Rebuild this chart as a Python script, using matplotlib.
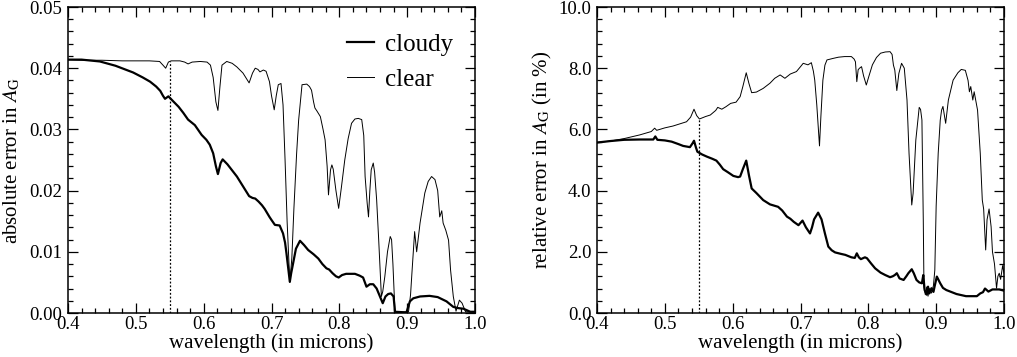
import numpy as np
import matplotlib
matplotlib.use("Agg")
import matplotlib.pyplot as plt
from matplotlib.ticker import MultipleLocator, FormatStrFormatter

plt.rcParams['font.family'] = ['Liberation Serif', 'DejaVu Serif']
plt.rcParams['mathtext.fontset'] = 'stix'

# ---------------- data ----------------
# left panel: absolute error, clear sky
abs_clear_wl = [0.400, 0.420, 0.450, 0.480, 0.500, 0.520, 0.535, 0.540, 0.544, 0.548, 0.552, 0.565,
                0.572, 0.577, 0.583, 0.595, 0.605, 0.610, 0.614, 0.618, 0.621, 0.624, 0.627, 0.634,
                0.642, 0.649, 0.658, 0.667, 0.672, 0.676, 0.680, 0.683, 0.688, 0.692, 0.697, 0.700,
                0.704, 0.707, 0.710, 0.714, 0.717, 0.720, 0.723, 0.727, 0.730, 0.733, 0.737, 0.740,
                0.745, 0.752, 0.756, 0.759, 0.762, 0.764, 0.767, 0.772, 0.776, 0.779, 0.782, 0.784,
                0.787, 0.789, 0.791, 0.795, 0.799, 0.803, 0.808, 0.813, 0.818, 0.823, 0.828, 0.833,
                0.836, 0.838, 0.841, 0.843, 0.845, 0.847, 0.850, 0.852, 0.855, 0.858, 0.862, 0.864,
                0.867, 0.871, 0.875, 0.877, 0.879, 0.882, 0.890, 0.902, 0.905, 0.907, 0.911, 0.914,
                0.919, 0.926, 0.931, 0.936, 0.941, 0.945, 0.948, 0.951, 0.953, 0.957, 0.961, 0.964,
                0.968, 0.972, 0.977, 0.981, 0.986, 1.000]
abs_clear = [0.0414, 0.0413, 0.0413, 0.0412, 0.0412, 0.0412, 0.0411, 0.0405, 0.0400, 0.0410, 0.0412, 0.0412,
             0.0410, 0.0407, 0.0410, 0.0411, 0.0410, 0.0405, 0.0385, 0.0345, 0.0331, 0.0370, 0.0405, 0.0411,
             0.0408, 0.0402, 0.0392, 0.0376, 0.0392, 0.0400, 0.0398, 0.0394, 0.0397, 0.0395, 0.0378, 0.0355,
             0.0332, 0.0355, 0.0373, 0.0375, 0.0340, 0.0250, 0.0150, 0.0050, 0.0090, 0.0170, 0.0260, 0.0315,
             0.0373, 0.0374, 0.0370, 0.0364, 0.0345, 0.0335, 0.0330, 0.0321, 0.0300, 0.0283, 0.0240, 0.0193,
             0.0234, 0.0242, 0.0235, 0.0200, 0.0171, 0.0205, 0.0250, 0.0285, 0.0310, 0.0317, 0.0318, 0.0316,
             0.0290, 0.0223, 0.0180, 0.0157, 0.0200, 0.0234, 0.0245, 0.0230, 0.0185, 0.0120, 0.0027, 0.0035,
             0.0059, 0.0100, 0.0125, 0.0120, 0.0080, 0.0002, 0.0001, 0.0002, 0.0030, 0.0065, 0.0133, 0.0100,
             0.0147, 0.0196, 0.0215, 0.0223, 0.0218, 0.0200, 0.0157, 0.0167, 0.0147, 0.0135, 0.0119, 0.0070,
             0.0027, 0.0003, 0.0021, 0.0016, 0.0002, 0.0002]

# left panel: absolute error, cloudy sky
abs_cloudy_wl = [0.400, 0.420, 0.447, 0.470, 0.496, 0.510, 0.521, 0.530, 0.536, 0.540, 0.543, 0.548,
                 0.555, 0.563, 0.570, 0.577, 0.587, 0.597, 0.604, 0.609, 0.614, 0.618, 0.621, 0.625,
                 0.628, 0.635, 0.642, 0.649, 0.658, 0.667, 0.672, 0.676, 0.681, 0.686, 0.690, 0.697,
                 0.700, 0.705, 0.712, 0.717, 0.720, 0.722, 0.725, 0.727, 0.729, 0.732, 0.736, 0.742,
                 0.748, 0.754, 0.762, 0.769, 0.775, 0.781, 0.785, 0.790, 0.795, 0.799, 0.804, 0.810,
                 0.823, 0.830, 0.835, 0.840, 0.845, 0.850, 0.855, 0.858, 0.864, 0.868, 0.872, 0.876,
                 0.880, 0.882, 0.899, 0.904, 0.909, 0.919, 0.933, 0.945, 0.958, 0.968, 0.975, 0.983,
                 0.993, 1.000]
abs_cloudy = [0.0414, 0.0414, 0.0411, 0.0404, 0.0393, 0.0385, 0.0378, 0.0370, 0.0363, 0.0355, 0.0350, 0.0354,
              0.0346, 0.0337, 0.0327, 0.0316, 0.0307, 0.0291, 0.0283, 0.0275, 0.0261, 0.0240, 0.0227, 0.0245,
              0.0251, 0.0243, 0.0233, 0.0223, 0.0207, 0.0191, 0.0188, 0.0187, 0.0182, 0.0176, 0.0170, 0.0157,
              0.0152, 0.0144, 0.0143, 0.0130, 0.0115, 0.0098, 0.0070, 0.0051, 0.0065, 0.0082, 0.0105, 0.0118,
              0.0111, 0.0103, 0.0096, 0.0089, 0.0080, 0.0073, 0.0071, 0.0065, 0.0060, 0.0058, 0.0062, 0.0064,
              0.0064, 0.0061, 0.0058, 0.0043, 0.0047, 0.0047, 0.0040, 0.0032, 0.0016, 0.0027, 0.0031, 0.0032,
              0.0027, 0.0002, 0.0001, 0.0019, 0.0024, 0.0027, 0.0028, 0.0026, 0.0019, 0.0010, 0.0008, 0.0007,
              0.0002, 0.0002]

# right panel: relative error (%), clear sky
rel_clear_wl = [0.400, 0.420, 0.440, 0.463, 0.480, 0.485, 0.488, 0.500, 0.512, 0.522, 0.532, 0.538,
                0.543, 0.547, 0.551, 0.560, 0.567, 0.575, 0.578, 0.584, 0.590, 0.597, 0.605, 0.611,
                0.615, 0.620, 0.624, 0.628, 0.635, 0.645, 0.655, 0.662, 0.670, 0.677, 0.685, 0.694,
                0.700, 0.704, 0.711, 0.716, 0.719, 0.721, 0.724, 0.728, 0.730, 0.733, 0.736, 0.739,
                0.748, 0.756, 0.765, 0.775, 0.779, 0.781, 0.783, 0.785, 0.787, 0.790, 0.793, 0.797,
                0.801, 0.806, 0.812, 0.818, 0.825, 0.832, 0.835, 0.837, 0.839, 0.842, 0.845, 0.849,
                0.853, 0.857, 0.860, 0.864, 0.866, 0.870, 0.875, 0.877, 0.879, 0.881, 0.882, 0.884,
                0.886, 0.888, 0.890, 0.893, 0.896, 0.898, 0.900, 0.903, 0.906, 0.908, 0.910, 0.914,
                0.918, 0.925, 0.932, 0.937, 0.943, 0.947, 0.949, 0.951, 0.954, 0.956, 0.961, 0.965,
                0.968, 0.970, 0.973, 0.975, 0.978, 0.981, 0.983, 0.986, 0.989, 0.991, 0.993, 0.995,
                0.998, 1.000]
rel_clear = [5.57, 5.62, 5.70, 5.82, 5.93, 6.04, 5.97, 6.05, 6.11, 6.18, 6.25, 6.40,
             6.66, 6.45, 6.34, 6.42, 6.47, 6.62, 6.72, 6.66, 6.74, 6.85, 6.89, 7.07,
             7.40, 7.85, 7.50, 7.20, 7.22, 7.34, 7.51, 7.67, 7.78, 7.67, 7.81, 7.89,
             8.05, 8.16, 8.11, 8.18, 7.90, 7.61, 6.80, 5.46, 6.40, 7.61, 8.10, 8.27,
             8.32, 8.36, 8.38, 8.38, 8.30, 8.21, 7.56, 7.95, 8.00, 8.05, 7.75, 7.45,
             7.75, 8.11, 8.35, 8.49, 8.53, 8.54, 8.45, 8.10, 7.94, 7.27, 7.83, 8.16,
             8.00, 6.96, 5.22, 3.53, 3.91, 5.65, 6.72, 6.65, 6.31, 3.04, 0.86, 0.60,
             0.85, 0.55, 0.80, 0.65, 0.90, 1.40, 3.50, 5.22, 6.30, 6.63, 6.75, 6.20,
             6.96, 7.61, 7.85, 7.96, 7.93, 7.60, 7.23, 7.40, 6.96, 7.23, 6.63, 5.22,
             3.69, 3.40, 2.06, 3.05, 3.40, 2.82, 2.00, 1.60, 0.81, 1.20, 1.30, 1.10,
             1.55, 1.30]

# right panel: relative error (%), cloudy sky
rel_cloudy_wl = [0.400, 0.420, 0.440, 0.463, 0.483, 0.486, 0.489, 0.500, 0.510, 0.520, 0.527, 0.537,
                 0.541, 0.543, 0.546, 0.548, 0.555, 0.562, 0.570, 0.576, 0.581, 0.586, 0.593, 0.601,
                 0.608, 0.611, 0.615, 0.620, 0.624, 0.628, 0.635, 0.645, 0.655, 0.667, 0.673, 0.680,
                 0.685, 0.690, 0.697, 0.703, 0.708, 0.714, 0.717, 0.720, 0.726, 0.731, 0.736, 0.741,
                 0.746, 0.751, 0.760, 0.766, 0.775, 0.780, 0.783, 0.786, 0.789, 0.795, 0.798, 0.804,
                 0.810, 0.818, 0.825, 0.832, 0.836, 0.839, 0.842, 0.846, 0.852, 0.856, 0.859, 0.864,
                 0.867, 0.871, 0.875, 0.879, 0.881, 0.883, 0.886, 0.888, 0.890, 0.893, 0.896, 0.898,
                 0.901, 0.906, 0.910, 0.915, 0.930, 0.944, 0.960, 0.965, 0.969, 0.972, 0.977, 0.983,
                 0.993, 1.000]
rel_cloudy = [5.57, 5.62, 5.66, 5.67, 5.67, 5.77, 5.66, 5.64, 5.60, 5.52, 5.46, 5.42,
              5.55, 5.63, 5.40, 5.27, 5.18, 5.11, 5.04, 4.98, 4.85, 4.70, 4.60, 4.48,
              4.44, 4.46, 4.70, 4.98, 4.50, 4.07, 3.92, 3.69, 3.55, 3.47, 3.35, 3.15,
              3.08, 2.98, 2.87, 3.02, 2.80, 2.60, 2.80, 3.06, 3.28, 3.06, 2.60, 2.17,
              2.05, 1.98, 1.93, 1.90, 1.82, 1.80, 1.95, 1.82, 1.76, 1.82, 1.79, 1.62,
              1.46, 1.32, 1.24, 1.17, 1.20, 1.24, 1.30, 1.13, 1.08, 1.20, 1.30, 1.43,
              1.30, 1.08, 1.00, 0.97, 1.24, 0.75, 0.60, 0.86, 0.64, 0.81, 0.69, 0.90,
              1.19, 0.97, 0.82, 0.75, 0.62, 0.55, 0.55, 0.64, 0.68, 0.80, 0.70, 0.77,
              0.77, 0.73]

reference_wavelength = 0.55
series_labels = ["cloudy", "clear"]
x_label = "wavelength (in microns)"
y_labels = ["absolute error in $A_{\\mathrm{G}}$", "relative error in $A_{\\mathrm{G}}$ (in %)"]

# ---------------- figure ----------------
fig = plt.figure(figsize=(10.17, 3.57), dpi=100)
ax1 = fig.add_axes([68 / 1017, 1 - 313 / 357, 407 / 1017, 306 / 357])
ax2 = fig.add_axes([597 / 1017, 1 - 313 / 357, 407 / 1017, 306 / 357])

TICK_FS = 13.5
LABEL_FS = 15

def style(ax, ymax, ymaj, ymin, yfmt):
    ax.set_xlim(0.4, 1.0)
    ax.set_ylim(0, ymax)
    ax.xaxis.set_major_locator(MultipleLocator(0.1))
    ax.xaxis.set_minor_locator(MultipleLocator(0.02))
    ax.yaxis.set_major_locator(MultipleLocator(ymaj))
    ax.yaxis.set_minor_locator(MultipleLocator(ymin))
    ax.xaxis.set_major_formatter(FormatStrFormatter('%.1f'))
    ax.yaxis.set_major_formatter(FormatStrFormatter(yfmt))
    ax.tick_params(which='both', direction='in', top=True, right=True, width=0.9, colors='black')
    ax.tick_params(which='major', length=7, labelsize=TICK_FS)
    ax.tick_params(axis='y', which='major', pad=4)
    ax.tick_params(axis='x', which='major', pad=2)
    ax.tick_params(which='minor', length=3.5)
    for s in ax.spines.values():
        s.set_linewidth(1.1)
    ax.set_xlabel(x_label, fontsize=LABEL_FS, labelpad=0)

# left
ax1.plot(abs_cloudy_wl, abs_cloudy, color='black', lw=1.6, label=series_labels[0])
ax1.plot(abs_clear_wl, abs_clear, color='black', lw=0.7, label=series_labels[1])
top1 = np.interp(reference_wavelength, abs_clear_wl, abs_clear)
ax1.plot([reference_wavelength, reference_wavelength], [0, top1], color='black', lw=0.9, ls=(0, (1.5, 1.5)))
style(ax1, 0.05, 0.01, 0.002, '%.2f')
ax1.set_ylabel(y_labels[0], fontsize=LABEL_FS, labelpad=5)
leg = ax1.legend(loc='upper right', bbox_to_anchor=(0.99, 0.97), frameon=False, fontsize=18,
                 handlelength=1.1, handletextpad=0.45, labelspacing=0.5, borderpad=0.2)

# right
ax2.plot(rel_cloudy_wl, rel_cloudy, color='black', lw=1.6)
ax2.plot(rel_clear_wl, rel_clear, color='black', lw=0.7)
top2 = np.interp(reference_wavelength, rel_clear_wl, rel_clear)
ax2.plot([reference_wavelength, reference_wavelength], [0, top2], color='black', lw=0.9, ls=(0, (1.5, 1.5)))
style(ax2, 10.0, 2.0, 0.4, '%.1f')
ax2.set_ylabel(y_labels[1], fontsize=LABEL_FS, labelpad=3)

fig.savefig("out.png", dpi=100)
